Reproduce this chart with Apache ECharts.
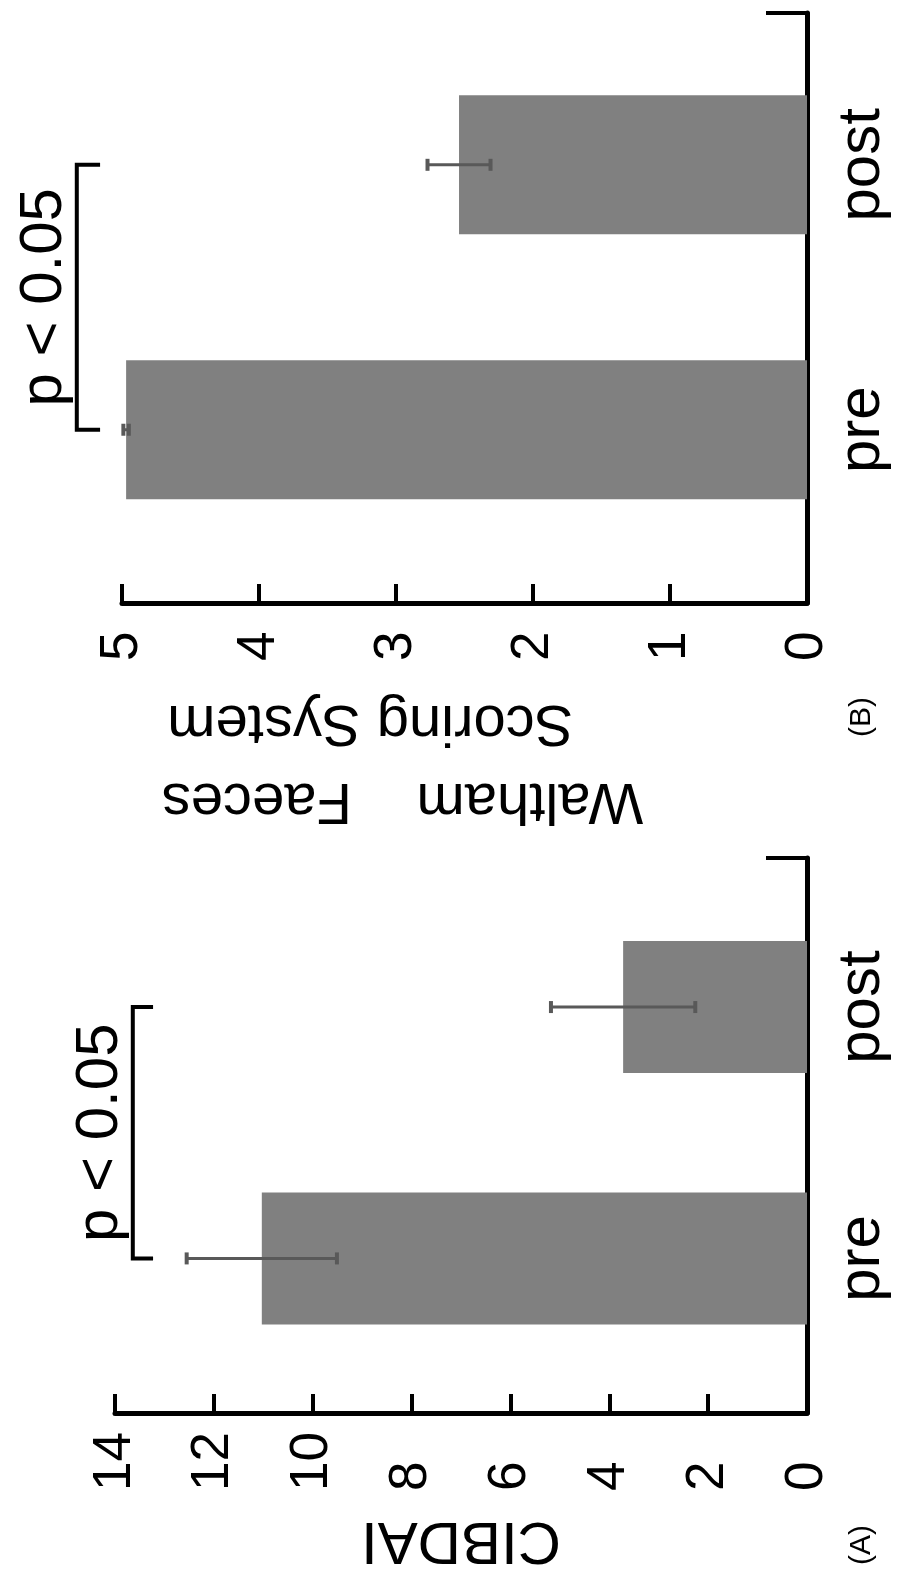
<!DOCTYPE html>
<html><head><meta charset="utf-8">
<script src="https://cdn.jsdelivr.net/npm/echarts@6/dist/echarts.min.js"></script>
<style>html,body{margin:0;padding:0;background:#fff}#c{width:904px;height:1571px}</style>
</head><body><div id="c"></div>
<script>
// ---------- data ----------
const CATEGORIES = ['pre', 'post'];
// Panel (A): CIBDAI
const A_MEANS = [11.03, 3.72];
const A_ERRORS = [1.52, 1.46];
const A_TICKS = [0, 2, 4, 6, 8, 10, 12, 14];
const A_BRACKET = [13.64, 13.23];   // bracket level, bracket end-tick level
// Panel (B): Waltham Faeces Scoring System
const B_MEANS = [4.97, 2.54];
const B_ERRORS = [0.02, 0.23];
const B_TICKS = [0, 1, 2, 3, 4, 5];
const B_BRACKET = [5.33, 5.16];
const SIG_LABEL = 'p < 0.05';
const PANEL_LABELS = ['(A)', '(B)'];
const A_TITLE = 'CIBDAI';
const B_TITLE = 'Waltham    Faeces\n    Scoring System';

// ---------- style ----------
const FONT = '"Liberation Sans", Arial, Helvetica, sans-serif';
const BAR_FRAC = 0.525;

function barItem(params, api) {
  const v = api.value(0), c = api.value(1);
  const a = api.coord([0, c]), b = api.coord([v, c]);
  const h = api.size([0, BAR_FRAC])[1];
  return { type: 'rect', shape: { x: Math.min(a[0], b[0]), y: a[1] - h / 2, width: Math.abs(a[0] - b[0]), height: h },
    style: { fill: '#808080' } };
}
function errItem(params, api) {
  const lo = api.value(0), hi = api.value(1), c = api.value(2);
  const p1 = api.coord([lo, c]), p2 = api.coord([hi, c]);
  const cap = 6, st = { stroke: '#595959', lineWidth: 3 }, sc = { stroke: '#595959', lineWidth: 4 };
  return { type: 'group', children: [
    { type: 'line', shape: { x1: p1[0], y1: p1[1], x2: p2[0], y2: p2[1] }, style: st },
    { type: 'line', shape: { x1: p1[0], y1: p1[1] - cap, x2: p1[0], y2: p1[1] + cap }, style: sc },
    { type: 'line', shape: { x1: p2[0], y1: p2[1] - cap, x2: p2[0], y2: p2[1] + cap }, style: sc }
  ] };
}
function bracketItem(params, api) {
  const lv = api.value(0), end = api.value(1), c0 = api.value(2), c1 = api.value(3);
  const a0 = api.coord([lv, c0]), a1 = api.coord([lv, c1]);
  const e0 = api.coord([end, c0]), e1 = api.coord([end, c1]);
  return { type: 'group', children: [
    { type: 'polyline', shape: { points: [[e0[0], e0[1]], [a0[0], a0[1]], [a1[0], a1[1]], [e1[0], e1[1]]] },
      style: { stroke: '#000', lineWidth: 4, fill: null } },
    { type: 'text', x: a0[0] - 32, y: (a0[1] + a1[1]) / 2, rotation: Math.PI / 2,
      style: { text: SIG_LABEL, fontSize: 60, fontFamily: FONT, fill: '#000', align: 'center', verticalAlign: 'middle' } }
  ] };
}

function valueAxis(grid, max, ticks, labelMargin, name, nameGap, nameExtra) {
  return {
    gridIndex: grid, type: 'value', min: 0, max: max, inverse: true,
    axisLine: { onZero: false, lineStyle: { color: '#000', width: 5 } },
    axisTick: { inside: true, length: 19, customValues: ticks, lineStyle: { color: '#000', width: 4 } },
    splitLine: { show: false },
    axisLabel: { customValues: ticks, rotate: 90, margin: labelMargin, align: 'left', verticalAlign: 'middle',
      fontSize: 53, color: '#000', fontFamily: FONT },
    name: name, nameLocation: 'middle', nameGap: nameGap, nameRotate: 180,
    nameTextStyle: Object.assign({ fontSize: 60, color: '#000', fontFamily: FONT, align: 'center', verticalAlign: 'middle' }, nameExtra || {})
  };
}
function catAxis(grid, lo, hi) {
  return {
    gridIndex: grid, type: 'value', position: 'right', min: lo, max: hi,
    axisLine: { onZero: false, lineStyle: { color: '#000', width: 5 } },
    axisTick: { show: true, inside: true, length: 41, customValues: [hi], lineStyle: { color: '#000', width: 4 } },
    splitLine: { show: false },
    axisLabel: { customValues: CATEGORIES.map((c, i) => i), formatter: v => CATEGORIES[Math.round(v)] || '',
      rotate: 90, margin: 55, align: 'center', verticalAlign: 'middle', fontSize: 60, color: '#000', fontFamily: FONT }
  };
}

const option = {
  animation: false,
  backgroundColor: '#fff',
  grid: [
    { left: 115, right: 97, top: 858, bottom: 151 },
    { left: 122, right: 97, top: 13, bottom: 968 }
  ],
  xAxis: [
    valueAxis(0, 14, A_TICKS, 78, A_TITLE, 127),
    valueAxis(1, 5, B_TICKS, 58, B_TITLE, 158, { fontSize: 58, lineHeight: 78, padding: [0, 0, 0, 124] })
  ],
  yAxis: [ catAxis(0, -0.615, 1.593), catAxis(1, -0.654, 1.573) ],
  series: [
    { type: 'custom', xAxisIndex: 0, yAxisIndex: 0, renderItem: barItem, encode: { x: 0, y: 1 },
      data: A_MEANS.map((v, i) => [v, i]) },
    { type: 'custom', xAxisIndex: 0, yAxisIndex: 0, renderItem: errItem, encode: { x: [0, 1], y: 2 },
      data: A_MEANS.map((v, i) => [v - A_ERRORS[i], v + A_ERRORS[i], i]) },
    { type: 'custom', xAxisIndex: 0, yAxisIndex: 0, renderItem: bracketItem, encode: { x: [0, 1], y: [2, 3] },
      data: [[A_BRACKET[0], A_BRACKET[1], 0, 1]] },
    { type: 'custom', xAxisIndex: 1, yAxisIndex: 1, renderItem: barItem, encode: { x: 0, y: 1 },
      data: B_MEANS.map((v, i) => [v, i]) },
    { type: 'custom', xAxisIndex: 1, yAxisIndex: 1, renderItem: errItem, encode: { x: [0, 1], y: 2 },
      data: B_MEANS.map((v, i) => [v - B_ERRORS[i], v + B_ERRORS[i], i]) },
    { type: 'custom', xAxisIndex: 1, yAxisIndex: 1, renderItem: bracketItem, encode: { x: [0, 1], y: [2, 3] },
      data: [[B_BRACKET[0], B_BRACKET[1], 0, 1]] }
  ],
  graphic: [
    { type: 'text', x: 862, y: 1545, rotation: Math.PI / 2,
      style: { text: PANEL_LABELS[0], fontSize: 30, fontFamily: FONT, fill: '#000', align: 'center', verticalAlign: 'middle' } },
    { type: 'text', x: 862, y: 717, rotation: Math.PI / 2,
      style: { text: PANEL_LABELS[1], fontSize: 30, fontFamily: FONT, fill: '#000', align: 'center', verticalAlign: 'middle' } }
  ]
};
const chart = echarts.init(document.getElementById('c'));
chart.setOption(option);
</script>
</body></html>
